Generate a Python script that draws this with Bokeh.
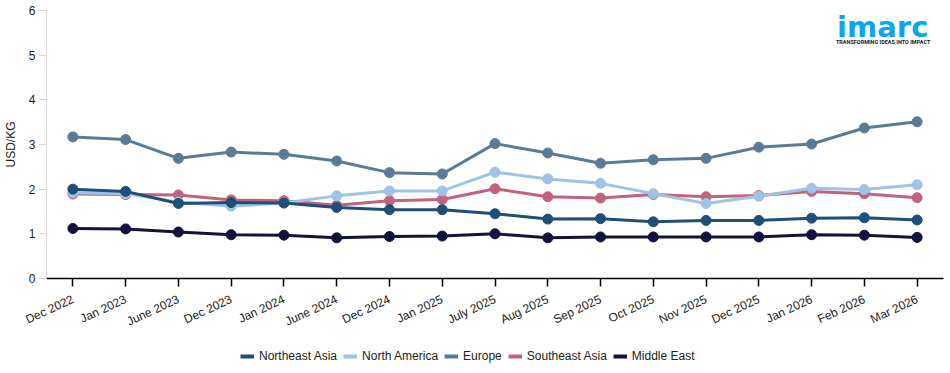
import math
from bokeh.plotting import figure
from bokeh.layouts import column
from bokeh.models import Range1d, SingleIntervalTicker, Legend, Label, FactorRange
from bokeh.embed import file_html
from bokeh.resources import INLINE

months = ["Dec 2022", "Jan 2023", "June 2023", "Dec 2023", "Jan 2024", "June 2024",
          "Dec 2024", "Jan 2025", "July 2025", "Aug 2025", "Sep 2025", "Oct 2025",
          "Nov 2025", "Dec 2025", "Jan 2026", "Feb 2026", "Mar 2026"]

northeast_asia = [2.00, 1.95, 1.68, 1.70, 1.69, 1.59, 1.54, 1.54, 1.45, 1.33, 1.34, 1.27, 1.30, 1.30, 1.35, 1.36, 1.31]
north_america = [1.92, 1.90, 1.71, 1.62, 1.69, 1.85, 1.96, 1.96, 2.38, 2.23, 2.13, 1.90, 1.68, 1.84, 2.02, 1.99, 2.10]
europe = [3.17, 3.11, 2.69, 2.83, 2.78, 2.63, 2.37, 2.34, 3.02, 2.81, 2.58, 2.66, 2.69, 2.94, 3.01, 3.37, 3.51]
southeast_asia = [1.89, 1.88, 1.87, 1.76, 1.74, 1.64, 1.74, 1.77, 2.01, 1.83, 1.80, 1.88, 1.83, 1.86, 1.95, 1.90, 1.81]
middle_east = [1.12, 1.11, 1.04, 0.98, 0.97, 0.91, 0.94, 0.95, 1.00, 0.91, 0.93, 0.93, 0.93, 0.93, 0.98, 0.97, 0.92]

series_names = ["Northeast Asia", "North America", "Europe", "Southeast Asia", "Middle East"]
series_values = [northeast_asia, north_america, europe, southeast_asia, middle_east]
series_colors = ["#1f4e79", "#9dc3e6", "#5b7a96", "#c0637b", "#12123d"]

y_ticks_interval = 1

p = figure(frame_width=897, frame_height=268, x_range=FactorRange(*months), y_range=Range1d(0, 6),
           output_backend="svg", toolbar_location=None,
           min_border_left=45, min_border_right=8, min_border_top=10, min_border_bottom=62)
p.outline_line_color = None
p.xgrid.grid_line_color = None
p.ygrid.grid_line_color = None
p.background_fill_color = "white"
p.border_fill_color = "white"

for name, vals, col in reversed(list(zip(series_names, series_values, series_colors))):
    p.line(months, vals, line_color=col, line_width=3)
    p.scatter(months, vals, size=10, fill_color=col, line_color=col)

# y axis
p.yaxis.ticker = SingleIntervalTicker(interval=y_ticks_interval)
p.yaxis.axis_line_color = "#d9d9d9"
p.yaxis.major_tick_line_color = "#d9d9d9"
p.yaxis.major_tick_out = 8
p.yaxis.major_tick_in = 0
p.yaxis.minor_tick_line_color = None
p.yaxis.major_label_text_font = "Liberation Sans"
p.yaxis.major_label_text_font_size = "12px"
p.yaxis.major_label_text_color = "#222222"
p.yaxis.major_label_standoff = 3
p.yaxis.axis_label = "USD/KG"
p.yaxis.axis_label_text_font = "Liberation Sans"
p.yaxis.axis_label_text_font_size = "12px"
p.yaxis.axis_label_text_font_style = "normal"
p.yaxis.axis_label_text_color = "#222222"
p.yaxis.axis_label_standoff = 8

# x axis
p.xaxis.axis_line_color = "black"
p.xaxis.axis_line_width = 1.5
p.xaxis.major_tick_line_color = "black"
p.xaxis.major_tick_line_width = 1.5
p.xaxis.major_tick_out = 8
p.xaxis.major_tick_in = 0
p.xaxis.major_label_orientation = math.radians(25)
p.xaxis.major_label_text_font = "Liberation Sans"
p.xaxis.major_label_text_font_size = "12px"
p.xaxis.major_label_text_color = "#222222"
p.xaxis.major_label_standoff = 12

# logo (anchored near the last category, top of the plot)
logo_x = len(months) - 0.5
p.add_layout(Label(x=logo_x, y=6, x_offset=-80, y_offset=-16, text="imarc",
                   text_font="DejaVu Sans", text_font_style="bold", text_font_size="29px",
                   text_color="#0aa6f2", text_baseline="alphabetic", text_align="left"))
p.add_layout(Label(x=logo_x, y=6, x_offset=-34, y_offset=-31,
                   text="TRANSFORMING IDEAS INTO IMPACT", text_font="Roboto",
                   text_font_style="bold", text_font_size="5.5px", text_color="#1a1a2e",
                   text_baseline="alphabetic", text_align="center"))

# legend strip below the chart (swatch lines sit outside the visible range)
pl = figure(frame_width=950, frame_height=32, x_range=Range1d(0, 1), y_range=Range1d(0, 1),
            output_backend="svg", toolbar_location=None, x_axis_type=None, y_axis_type=None,
            min_border=0)
pl.outline_line_color = None
pl.xgrid.grid_line_color = None
pl.ygrid.grid_line_color = None
items = []
for name, col in zip(series_names, series_colors):
    r = pl.line([-2, -1], [-2, -2], line_color=col, line_width=4)
    items.append((name, [r]))
legend = Legend(items=items, orientation="horizontal",
                location=(240, 9), border_line_color=None, background_fill_alpha=0,
                label_text_font="Liberation Sans", label_text_font_size="12px",
                label_text_color="#222222", glyph_width=14, glyph_height=14,
                label_standoff=5, spacing=6, padding=0, margin=0)
pl.add_layout(legend, "center")

layout = column(p, pl, spacing=0)
open("out.html", "w").write(file_html(layout, INLINE))
